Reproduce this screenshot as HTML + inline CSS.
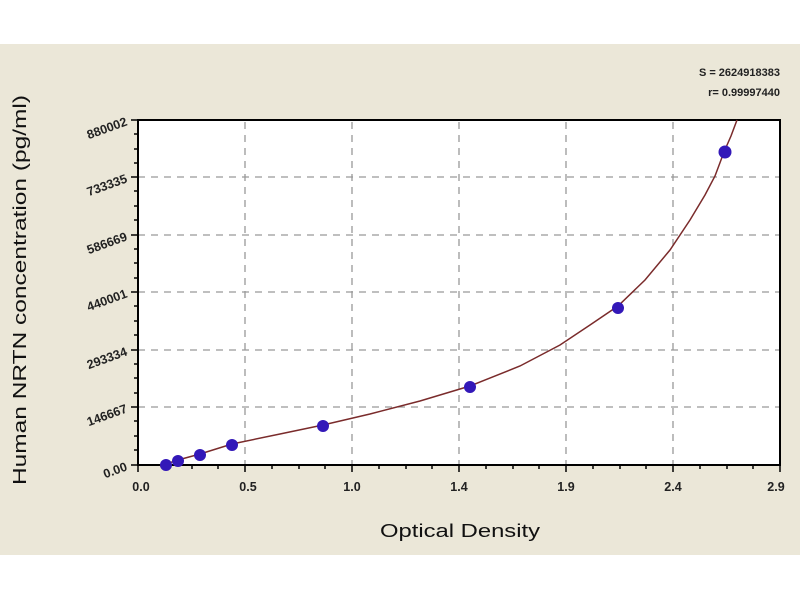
<!DOCTYPE html>
<html><head><meta charset="utf-8"><style>
html,body{margin:0;padding:0;background:#fff;}
svg{display:block;}
text{font-family:"Liberation Sans",sans-serif;}
</style></head><body>
<svg width="800" height="600" viewBox="0 0 800 600">
<rect x="0" y="0" width="800" height="600" fill="#fff"/>
<rect x="0" y="44" width="800" height="511" fill="#ebe7d8"/>
<rect x="138" y="120" width="642" height="345" fill="#fff"/>
<g stroke="#999" stroke-width="1.3" stroke-dasharray="7,6">
<line x1="245" y1="122" x2="245" y2="465"/>
<line x1="352" y1="122" x2="352" y2="465"/>
<line x1="459" y1="122" x2="459" y2="465"/>
<line x1="566" y1="122" x2="566" y2="465"/>
<line x1="673" y1="122" x2="673" y2="465"/>
<line x1="138" y1="177" x2="780" y2="177"/>
<line x1="138" y1="235" x2="780" y2="235"/>
<line x1="138" y1="292" x2="780" y2="292"/>
<line x1="138" y1="350" x2="780" y2="350"/>
<line x1="138" y1="407" x2="780" y2="407"/>
</g>
<rect x="138" y="120" width="642" height="345" fill="none" stroke="#000" stroke-width="2"/>
<g stroke="#000" stroke-width="1.5">
<line x1="131" y1="120" x2="138" y2="120"/><line x1="131" y1="177" x2="138" y2="177"/><line x1="131" y1="235" x2="138" y2="235"/><line x1="131" y1="292" x2="138" y2="292"/><line x1="131" y1="350" x2="138" y2="350"/><line x1="131" y1="407" x2="138" y2="407"/><line x1="131" y1="465" x2="138" y2="465"/>
<line x1="134" y1="134" x2="138" y2="134"/><line x1="134" y1="149" x2="138" y2="149"/><line x1="134" y1="163" x2="138" y2="163"/>
<line x1="134" y1="191" x2="138" y2="191"/><line x1="134" y1="206" x2="138" y2="206"/><line x1="134" y1="220" x2="138" y2="220"/>
<line x1="134" y1="249" x2="138" y2="249"/><line x1="134" y1="263" x2="138" y2="263"/><line x1="134" y1="278" x2="138" y2="278"/>
<line x1="134" y1="306" x2="138" y2="306"/><line x1="134" y1="321" x2="138" y2="321"/><line x1="134" y1="335" x2="138" y2="335"/>
<line x1="134" y1="364" x2="138" y2="364"/><line x1="134" y1="378" x2="138" y2="378"/><line x1="134" y1="393" x2="138" y2="393"/>
<line x1="134" y1="421" x2="138" y2="421"/><line x1="134" y1="436" x2="138" y2="436"/><line x1="134" y1="450" x2="138" y2="450"/>
<line x1="138" y1="465" x2="138" y2="472"/><line x1="245" y1="465" x2="245" y2="472"/><line x1="352" y1="465" x2="352" y2="472"/><line x1="459" y1="465" x2="459" y2="472"/><line x1="566" y1="465" x2="566" y2="472"/><line x1="673" y1="465" x2="673" y2="472"/><line x1="780" y1="465" x2="780" y2="472"/>
<line x1="165" y1="465" x2="165" y2="469"/><line x1="192" y1="465" x2="192" y2="469"/><line x1="218" y1="465" x2="218" y2="469"/>
<line x1="272" y1="465" x2="272" y2="469"/><line x1="299" y1="465" x2="299" y2="469"/><line x1="325" y1="465" x2="325" y2="469"/>
<line x1="379" y1="465" x2="379" y2="469"/><line x1="406" y1="465" x2="406" y2="469"/><line x1="432" y1="465" x2="432" y2="469"/>
<line x1="486" y1="465" x2="486" y2="469"/><line x1="513" y1="465" x2="513" y2="469"/><line x1="539" y1="465" x2="539" y2="469"/>
<line x1="593" y1="465" x2="593" y2="469"/><line x1="620" y1="465" x2="620" y2="469"/><line x1="646" y1="465" x2="646" y2="469"/>
<line x1="700" y1="465" x2="700" y2="469"/><line x1="727" y1="465" x2="727" y2="469"/><line x1="753" y1="465" x2="753" y2="469"/>
</g>
<polyline fill="none" stroke="#7a2b2b" stroke-width="1.5" points="160,466 166,464 178,460 200,454 232,444 280,434 323,425 370,414 420,401 470,386 520,366 560,345 590,325 618,306 645,280 670,250 690,220 705,195 715,176 724,152 731,136 737,120"/>
<g fill="#3318b8">
<circle cx="166" cy="465" r="6"/><circle cx="178" cy="461" r="6"/><circle cx="200" cy="455" r="6"/><circle cx="232" cy="445" r="6"/><circle cx="323" cy="426" r="6"/><circle cx="470" cy="387" r="6"/><circle cx="618" cy="308" r="6"/><circle cx="725" cy="152" r="6.5"/>
</g>
<g font-size="12.5" font-weight="bold" fill="#222" text-anchor="end">
<text transform="translate(128,125) rotate(-20)">880002</text>
<text transform="translate(128,182) rotate(-20)">733335</text>
<text transform="translate(128,240) rotate(-20)">586669</text>
<text transform="translate(128,297) rotate(-20)">440001</text>
<text transform="translate(128,355) rotate(-20)">293334</text>
<text transform="translate(128,412) rotate(-20)">146667</text>
<text transform="translate(128,470) rotate(-20)">0.00</text>
</g>
<g font-size="12.5" font-weight="bold" fill="#222" text-anchor="middle">
<text x="141" y="491">0.0</text><text x="248" y="491">0.5</text><text x="352" y="491">1.0</text><text x="459" y="491">1.4</text><text x="566" y="491">1.9</text><text x="673" y="491">2.4</text><text x="776" y="491">2.9</text>
</g>
<text x="460" y="537" font-size="18" text-anchor="middle" fill="#111" textLength="160" lengthAdjust="spacingAndGlyphs">Optical Density</text>
<text transform="translate(26,290) rotate(-90)" font-size="18" text-anchor="middle" fill="#111" textLength="390" lengthAdjust="spacingAndGlyphs">Human  NRTN concentration (pg/ml)</text>
<g font-size="11" font-weight="bold" fill="#222" text-anchor="end">
<text x="780" y="76">S = 2624918383</text>
<text x="780" y="96">r= 0.99997440</text>
</g>
</svg>
</body></html>
